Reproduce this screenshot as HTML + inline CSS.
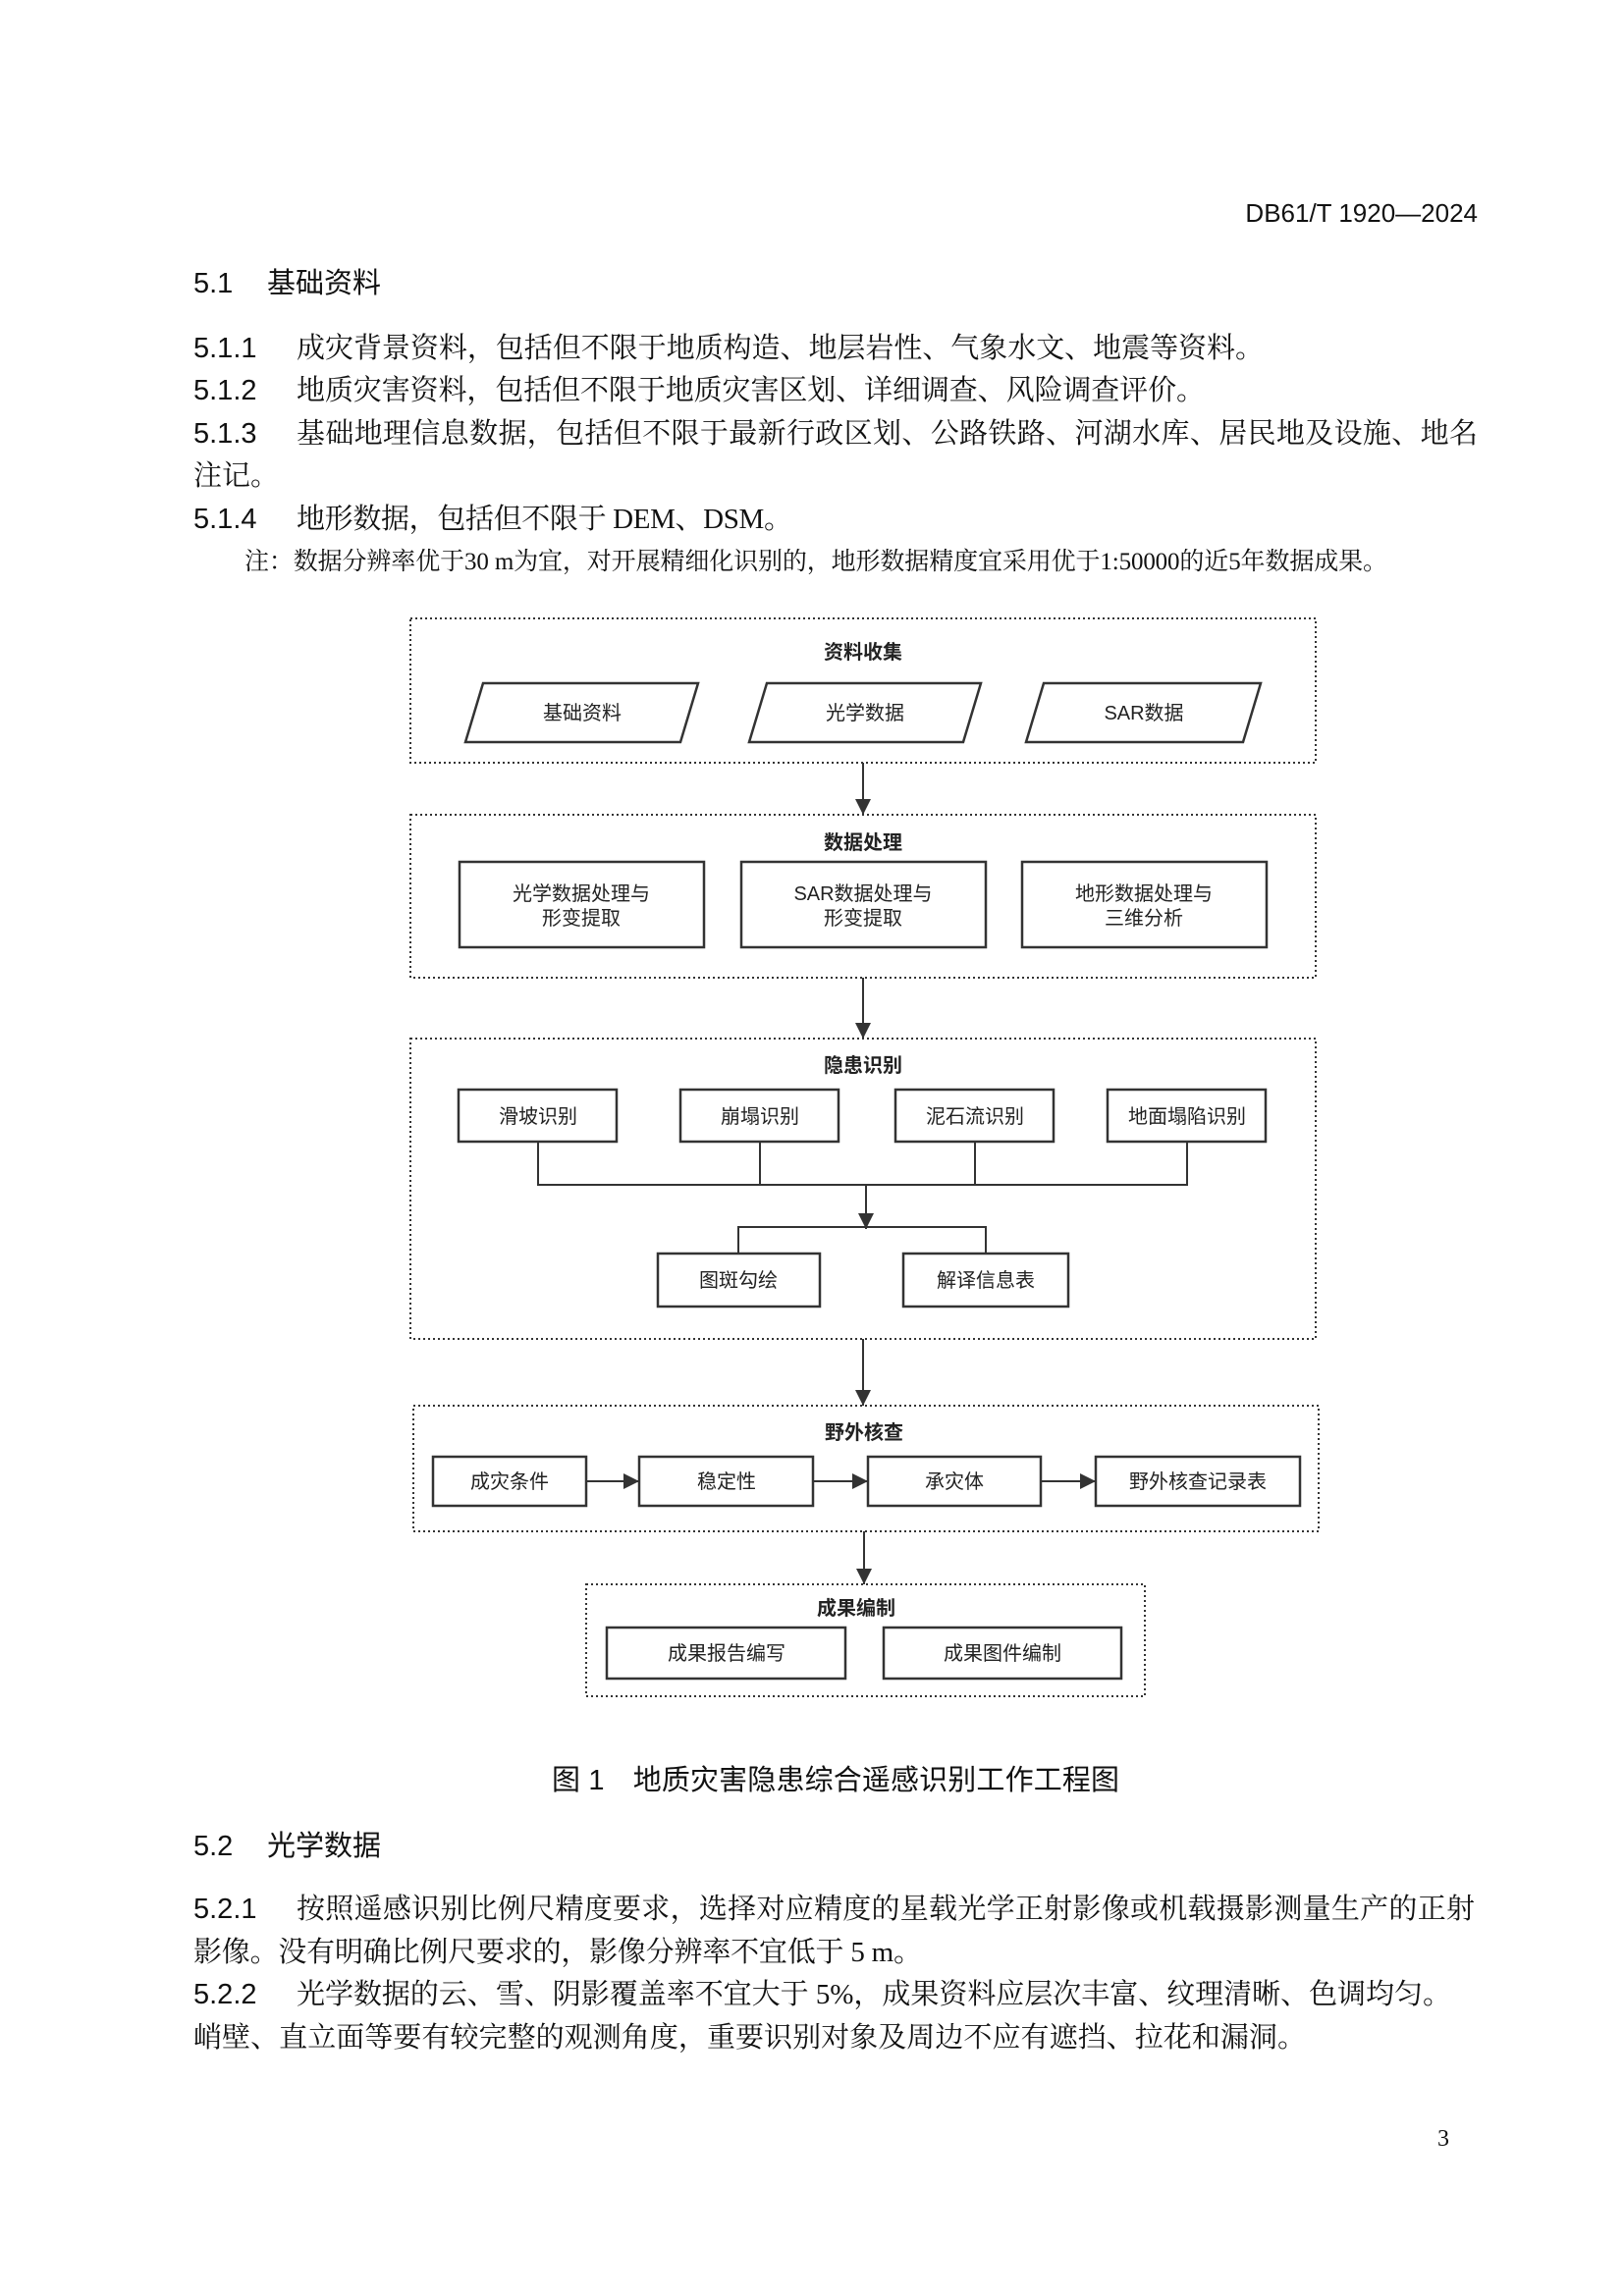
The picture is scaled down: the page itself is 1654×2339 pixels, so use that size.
<!DOCTYPE html>
<html><head><meta charset="utf-8"><style>
html,body{margin:0;padding:0;background:#fff;}
svg{display:block;}
.b{font-family:"Liberation Serif","Noto Serif CJK SC",serif;font-size:29px;fill:#111;}
.h{font-family:"Liberation Sans","Noto Sans CJK SC",sans-serif;font-size:29px;fill:#111;}
.n{font-family:"Liberation Serif","Noto Serif CJK SC",serif;font-size:25px;fill:#111;}
.d{font-family:"Liberation Sans","Noto Sans CJK SC",sans-serif;font-size:20px;fill:#222;text-anchor:middle;}
.t{font-family:"Liberation Sans","Noto Sans CJK SC",sans-serif;font-size:20px;font-weight:bold;fill:#222;text-anchor:middle;}
.dot{fill:none;stroke:#333;stroke-width:2;stroke-dasharray:2 3;}
.bx{fill:#fff;stroke:#333;stroke-width:2.5;}
.ln{stroke:#333;stroke-width:2;fill:none;}
</style></head><body>
<svg width="1654" height="2339" viewBox="0 0 1654 2339" xmlns="http://www.w3.org/2000/svg">
<defs><marker id="ar" markerWidth="10" markerHeight="10" refX="9" refY="5" orient="auto" markerUnits="userSpaceOnUse"><path d="M0,0 L10,5 L0,10 z" fill="#333"/></marker>
<marker id="ah" viewBox="0 0 10 10" markerWidth="16" markerHeight="16" refX="10" refY="5" orient="auto" markerUnits="userSpaceOnUse"><path d="M0,0 L10,5 L0,10 z" fill="#333"/></marker></defs>

<text class="h" x="1505" y="226" text-anchor="end" font-size="26" style="font-size:26px">DB61/T 1920—2024</text>

<text class="h" x="197" y="298">5.1</text>
<text class="h" x="272" y="298">基础资料</text>

<text class="h" x="197" y="364">5.1.1</text>
<text class="b" x="302" y="364" textLength="985" lengthAdjust="spacing">成灾背景资料，包括但不限于地质构造、地层岩性、气象水文、地震等资料。</text>
<text class="h" x="197" y="407">5.1.2</text>
<text class="b" x="302" y="407" textLength="925" lengthAdjust="spacing">地质灾害资料，包括但不限于地质灾害区划、详细调查、风险调查评价。</text>
<text class="h" x="197" y="451">5.1.3</text>
<text class="b" x="302" y="451" textLength="1203" lengthAdjust="spacing">基础地理信息数据，包括但不限于最新行政区划、公路铁路、河湖水库、居民地及设施、地名</text>
<text class="b" x="197" y="494">注记。</text>
<text class="h" x="197" y="538">5.1.4</text>
<text class="b" x="302" y="538" textLength="505" lengthAdjust="spacing">地形数据，包括但不限于 DEM、DSM。</text>
<text class="n" x="249" y="580" textLength="1164" lengthAdjust="spacing">注：数据分辨率优于30 m为宜，对开展精细化识别的，地形数据精度宜采用优于1:50000的近5年数据成果。</text>

<!-- box1 -->
<rect class="dot" x="418" y="630" width="922" height="147"/>
<text class="t" x="879" y="671">资料收集</text>
<polygon class="bx" points="492,696 711,696 693,756 474,756"/>
<text class="d" x="593" y="733">基础资料</text>
<polygon class="bx" points="781,696 999,696 981,756 763,756"/>
<text class="d" x="881" y="733">光学数据</text>
<polygon class="bx" points="1063,696 1284,696 1266,756 1045,756"/>
<text class="d" x="1165" y="733">SAR数据</text>
<line class="ln" x1="879" y1="777" x2="879" y2="830" marker-end="url(#ah)"/>

<!-- box2 -->
<rect class="dot" x="418" y="830" width="922" height="166"/>
<text class="t" x="879" y="865">数据处理</text>
<rect class="bx" x="468" y="878" width="249" height="87"/>
<text class="d" x="592" y="917">光学数据处理与</text><text class="d" x="592" y="942">形变提取</text>
<rect class="bx" x="755" y="878" width="249" height="87"/>
<text class="d" x="879" y="917">SAR数据处理与</text><text class="d" x="879" y="942">形变提取</text>
<rect class="bx" x="1041" y="878" width="249" height="87"/>
<text class="d" x="1165" y="917">地形数据处理与</text><text class="d" x="1165" y="942">三维分析</text>
<line class="ln" x1="879" y1="996" x2="879" y2="1058" marker-end="url(#ah)"/>

<!-- box3 -->
<rect class="dot" x="418" y="1058" width="922" height="306"/>
<text class="t" x="879" y="1092">隐患识别</text>
<rect class="bx" x="467" y="1110" width="161" height="53"/><text class="d" x="548" y="1144">滑坡识别</text>
<rect class="bx" x="693" y="1110" width="161" height="53"/><text class="d" x="774" y="1144">崩塌识别</text>
<rect class="bx" x="912" y="1110" width="161" height="53"/><text class="d" x="993" y="1144">泥石流识别</text>
<rect class="bx" x="1128" y="1110" width="161" height="53"/><text class="d" x="1209" y="1144">地面塌陷识别</text>
<polyline class="ln" points="548,1163 548,1207 1209,1207 1209,1163"/>
<line class="ln" x1="774" y1="1163" x2="774" y2="1207"/>
<line class="ln" x1="993" y1="1163" x2="993" y2="1207"/>
<line class="ln" x1="882" y1="1207" x2="882" y2="1252" marker-end="url(#ah)"/>
<polyline class="ln" points="752,1277 752,1250 1004,1250 1004,1277"/>
<rect class="bx" x="670" y="1277" width="165" height="54"/><text class="d" x="752" y="1311">图斑勾绘</text>
<rect class="bx" x="920" y="1277" width="168" height="54"/><text class="d" x="1004" y="1311">解译信息表</text>
<line class="ln" x1="879" y1="1364" x2="879" y2="1432" marker-end="url(#ah)"/>

<!-- box4 -->
<rect class="dot" x="421" y="1432" width="922" height="128"/>
<text class="t" x="880" y="1466">野外核查</text>
<rect class="bx" x="441" y="1484" width="156" height="50"/><text class="d" x="519" y="1516">成灾条件</text>
<rect class="bx" x="651" y="1484" width="177" height="50"/><text class="d" x="740" y="1516">稳定性</text>
<rect class="bx" x="884" y="1484" width="176" height="50"/><text class="d" x="972" y="1516">承灾体</text>
<rect class="bx" x="1116" y="1484" width="208" height="50"/><text class="d" x="1220" y="1516">野外核查记录表</text>
<line class="ln" x1="597" y1="1509" x2="651" y2="1509" marker-end="url(#ah)"/>
<line class="ln" x1="828" y1="1509" x2="884" y2="1509" marker-end="url(#ah)"/>
<line class="ln" x1="1060" y1="1509" x2="1116" y2="1509" marker-end="url(#ah)"/>
<line class="ln" x1="880" y1="1560" x2="880" y2="1614" marker-end="url(#ah)"/>

<!-- box5 -->
<rect class="dot" x="597" y="1614" width="569" height="114"/>
<text class="t" x="872" y="1645">成果编制</text>
<rect class="bx" x="618" y="1658" width="243" height="52"/><text class="d" x="740" y="1691">成果报告编写</text>
<rect class="bx" x="900" y="1658" width="242" height="52"/><text class="d" x="1021" y="1691">成果图件编制</text>

<text class="h" x="562" y="1823" textLength="578" lengthAdjust="spacing">图 1　地质灾害隐患综合遥感识别工作工程图</text>

<text class="h" x="197" y="1890">5.2</text>
<text class="h" x="272" y="1890">光学数据</text>
<text class="h" x="197" y="1954">5.2.1</text>
<text class="b" x="302" y="1954" textLength="1200" lengthAdjust="spacing">按照遥感识别比例尺精度要求，选择对应精度的星载光学正射影像或机载摄影测量生产的正射</text>
<text class="b" x="197" y="1998" textLength="742" lengthAdjust="spacing">影像。没有明确比例尺要求的，影像分辨率不宜低于 5 m。</text>
<text class="h" x="197" y="2041">5.2.2</text>
<text class="b" x="302" y="2041" textLength="1176" lengthAdjust="spacing">光学数据的云、雪、阴影覆盖率不宜大于 5%，成果资料应层次丰富、纹理清晰、色调均匀。</text>
<text class="b" x="197" y="2085" textLength="1133" lengthAdjust="spacing">峭壁、直立面等要有较完整的观测角度，重要识别对象及周边不应有遮挡、拉花和漏洞。</text>

<text class="b" x="1470" y="2186" text-anchor="middle" style="font-size:24px">3</text>
</svg>
</body></html>
